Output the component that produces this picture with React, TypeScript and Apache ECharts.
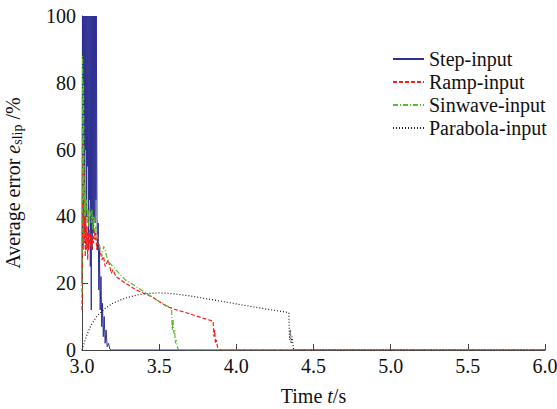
import React, { useEffect, useRef } from "react";
import * as echarts from "echarts";

const xTicks = [3.0, 3.5, 4.0, 4.5, 5.0, 5.5, 6.0];
const yTicks = [0, 20, 40, 60, 80, 100];

const seriesNames = ["Step-input", "Ramp-input", "Sinwave-input", "Parabola-input"];

const stepData: [number, number][] = [
  [3.0, 20], [3.003, 100], [3.006, 30], [3.009, 100], [3.012, 50], [3.015, 100],
  [3.018, 35], [3.021, 100], [3.024, 60], [3.027, 100], [3.03, 40], [3.033, 100],
  [3.036, 55], [3.039, 100], [3.042, 30], [3.045, 100], [3.048, 45], [3.051, 100],
  [3.054, 25], [3.057, 100], [3.06, 12], [3.063, 100], [3.066, 30], [3.069, 100],
  [3.072, 35], [3.075, 100], [3.078, 40], [3.081, 100], [3.084, 38], [3.087, 100],
  [3.09, 45], [3.093, 100], [3.097, 40], [3.101, 30], [3.105, 38], [3.109, 18],
  [3.113, 30], [3.118, 12], [3.123, 22], [3.128, 7], [3.133, 14], [3.138, 4],
  [3.144, 10], [3.15, 2], [3.156, 6], [3.163, 1], [3.172, 2], [3.18, 0.3], [3.19, 0], [6.0, 0],
];

const rampData: [number, number][] = [
  [3.0, 12], [3.003, 30], [3.006, 62], [3.009, 40], [3.012, 55], [3.015, 32],
  [3.018, 45], [3.021, 28], [3.025, 40], [3.029, 30], [3.033, 37], [3.037, 27],
  [3.041, 35], [3.045, 30], [3.05, 36], [3.055, 31], [3.06, 35], [3.065, 30],
  [3.07, 34], [3.075, 32], [3.08, 36], [3.085, 33], [3.09, 35], [3.095, 30],
  [3.1, 32], [3.11, 31], [3.12, 29], [3.13, 27], [3.14, 28], [3.15, 25],
  [3.16, 26], [3.17, 27], [3.18, 25], [3.19, 23], [3.2, 24], [3.22, 22],
  [3.25, 21], [3.28, 20], [3.3, 19.5], [3.35, 18], [3.4, 17], [3.45, 16],
  [3.5, 14.5], [3.55, 13], [3.6, 12.2], [3.7, 10.8], [3.8, 9.3], [3.85, 8.6],
  [3.855, 4], [3.86, 6], [3.865, 2], [3.87, 3], [3.88, 0.5], [3.89, 0], [6.0, 0],
];

const sinData: [number, number][] = [
  [3.0, 17], [3.002, 60], [3.004, 88], [3.006, 70], [3.008, 45], [3.01, 80],
  [3.013, 50], [3.016, 40], [3.019, 50], [3.022, 48], [3.025, 42], [3.03, 45],
  [3.035, 38], [3.04, 42], [3.045, 37], [3.05, 43], [3.055, 40], [3.06, 38],
  [3.065, 42], [3.07, 36], [3.075, 40], [3.08, 39], [3.085, 35], [3.09, 37],
  [3.1, 34], [3.11, 32], [3.12, 30], [3.13, 28], [3.14, 31], [3.15, 30],
  [3.16, 28], [3.17, 27], [3.18, 26], [3.2, 25], [3.22, 24], [3.25, 22.5],
  [3.28, 21], [3.3, 20.5], [3.35, 19], [3.4, 17.5], [3.45, 16], [3.5, 14.5],
  [3.55, 13.2], [3.58, 12.6], [3.585, 6], [3.59, 9], [3.595, 5], [3.6, 6],
  [3.605, 2], [3.61, 3], [3.62, 0.5], [3.63, 0], [6.0, 0],
];

const paraData: [number, number][] = [
  [3.0, 0], [3.02, 3], [3.04, 5.5], [3.06, 7.5], [3.08, 9], [3.1, 10.3],
  [3.15, 12.5], [3.2, 14], [3.25, 15], [3.3, 15.8], [3.35, 16.4], [3.4, 16.8],
  [3.45, 17], [3.5, 17.1], [3.55, 17], [3.6, 16.8], [3.7, 16.2], [3.8, 15.4],
  [3.9, 14.6], [4.0, 13.8], [4.1, 13], [4.2, 12.2], [4.3, 11.5], [4.34, 11.2],
  [4.345, 3], [4.35, 6], [4.355, 2], [4.36, 4], [4.37, 0.5], [4.38, 0], [6.0, 0],
];

const FONT = "'Liberation Serif', 'Times New Roman', serif";

export default function App() {
  const ref = useRef<HTMLDivElement>(null);
  useEffect(() => {
    if (!ref.current) return;
    const chart = echarts.init(ref.current, undefined, { renderer: "svg" });
    const mk = (name: string, data: [number, number][], color: string, type: any, width = 1) => ({
      name,
      type: "line",
      data,
      symbol: "none",
      showSymbol: false,
      lineStyle: { color, width, type },
      itemStyle: { color },
      z: 2,
    });
    chart.setOption({
      animation: false,
      backgroundColor: "#fff",
      textStyle: { fontFamily: FONT },
      grid: { left: 82, right: 12, top: 16, bottom: 59, outerBoundsMode: "none", containLabel: false },
      legend: {
        orient: "vertical",
        left: 387,
        top: 44,
        itemWidth: 31,
        itemHeight: 14,
        itemGap: 3,
        itemStyle: { opacity: 0 },
        textStyle: { fontFamily: FONT, fontSize: 20, color: "#111" },
        data: seriesNames,
      },
      xAxis: {
        type: "value",
        min: 3,
        max: 6,
        interval: 0.5,
        name: "{a|Time }{i|t}{a|/s}",
        nameLocation: "middle",
        nameGap: 36,
        nameTextStyle: {
          rich: {
            a: { fontFamily: FONT, fontSize: 20, color: "#111" },
            i: { fontFamily: FONT, fontSize: 20, color: "#111", fontStyle: "italic" },
          },
        },
        axisLine: { lineStyle: { color: "#444", width: 1 } },
        axisTick: { inside: true, length: 6, lineStyle: { color: "#444" } },
        axisLabel: {
          fontFamily: FONT,
          fontSize: 20,
          color: "#111",
          margin: 6,
          formatter: (v: number) => v.toFixed(1),
        },
        splitLine: { show: false },
      },
      yAxis: {
        type: "value",
        min: 0,
        max: 100,
        interval: 20,
        name: "{a|Average error }{i|e}{s|slip}{a| /%}",
        nameLocation: "middle",
        nameRotate: 90,
        nameGap: 58,
        nameTextStyle: {
          rich: {
            a: { fontFamily: FONT, fontSize: 20, color: "#111" },
            i: { fontFamily: FONT, fontSize: 20, color: "#111", fontStyle: "italic" },
            s: { fontFamily: FONT, fontSize: 14, color: "#111", padding: [9, 0, 0, 0] },
          },
        },
        axisLine: { show: true, lineStyle: { color: "#444", width: 1 } },
        axisTick: { show: true, inside: true, length: 6, lineStyle: { color: "#444" } },
        axisLabel: { fontFamily: FONT, fontSize: 20, color: "#111", margin: 6 },
        splitLine: { show: false },
      },
      series: [
        mk(seriesNames[0], stepData, "#2e3192", "solid", 1),
        mk(seriesNames[1], rampData, "#f0201c", [4, 2], 1.2),
        mk(seriesNames[2], sinData, "#5cb82e", [5, 2, 1, 2], 1.2),
        mk(seriesNames[3], paraData, "#222222", [1, 2], 1.2),
      ],
    });
    return () => chart.dispose();
  }, []);
  return (
    <div
      ref={ref}
      style={{ position: "fixed", left: 0, top: 0, width: 557, height: 409 }}
    />
  );
}
